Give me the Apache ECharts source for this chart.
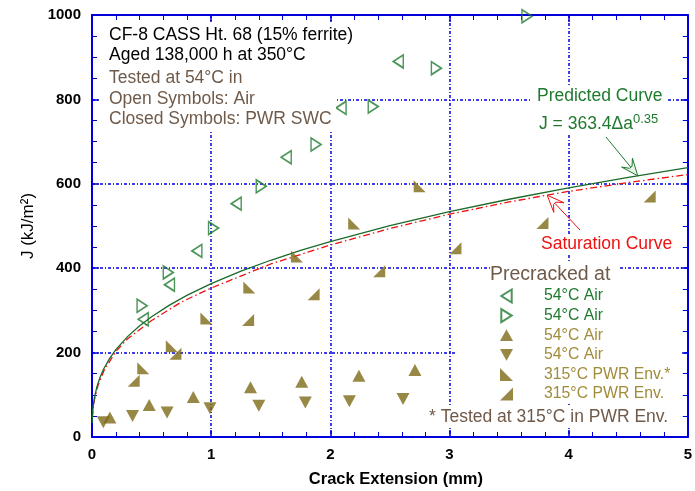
<!DOCTYPE html>
<html>
<head>
<meta charset="utf-8">
<script src="https://cdn.jsdelivr.net/npm/echarts@6/dist/echarts.min.js"></script>
<style>
  html, body { margin: 0; padding: 0; background: #ffffff; }
  #chart { width: 695px; height: 491px; }
</style>
</head>
<body>
<div id="chart"></div>
<script>
// Crack extension Δa (mm) and J (kJ/m²) for each specimen group
const airOpenLeft  = [[0.43, 279], [0.65, 361], [0.88, 441], [1.21, 553], [1.63, 663], [2.09, 780], [2.57, 890]];
const airOpenRight = [[0.42, 311], [0.64, 390], [1.02, 495], [1.42, 594], [1.88, 693], [2.36, 783], [2.89, 874], [3.65, 997]];
const swcUp        = [[0.15, 46], [0.48, 76], [0.85, 95], [1.33, 118], [1.76, 131], [2.24, 145], [2.71, 159]];
const swcDown      = [[0.095, 35], [0.34, 50], [0.63, 58], [0.99, 68], [1.40, 74], [1.79, 82], [2.16, 85], [2.61, 90]];
const pwrHotTested = [[0.43, 163], [0.67, 215], [0.96, 281], [1.32, 354], [1.72, 428], [2.20, 506], [2.75, 594]];
const pwrEnv       = [[0.35, 133], [0.70, 197], [1.31, 277], [1.86, 338], [2.41, 393], [3.05, 447], [3.78, 507], [4.68, 570]];

// Saturation J-R curve
const saturationCurve = [[0.003, 45], [0.01, 68], [0.02, 88], [0.05, 122], [0.1, 157], [0.2, 203], [0.3, 233],
  [0.5, 276], [0.75, 320], [1.0, 353], [1.5, 410], [2.0, 455], [2.5, 494], [3.0, 528], [3.5, 557],
  [4.0, 582], [4.5, 603], [5.0, 622]];

// Predicted curve J = C·Δa^n
const fitC = 363.4;
const fitN = 0.35;
const fitDa = [0.001, 0.003, 0.006, 0.01, 0.02, 0.04, 0.07, 0.1, 0.15, 0.2, 0.3, 0.4, 0.5, 0.65, 0.8, 1.0,
  1.25, 1.5, 1.75, 2.0, 2.5, 3.0, 3.5, 4.0, 4.5, 5.0];
const predictedCurve = fitDa.map(a => [a, fitC * Math.pow(a, fitN)]);

// Axis ranges
const xRange = { min: 0, max: 5, interval: 1 };
const yRange = { min: 0, max: 1000, interval: 200 };

const legendLabels = {
  airOpenLeft: '54°C Air',
  airOpenRight: '54°C Air',
  swcUp: '54°C Air',
  swcDown: '54°C Air',
  pwrHotTested: '315°C PWR Env.*',
  pwrEnv: '315°C PWR Env.'
};

const BLUE = '#0000dd';
const GREEN = '#1f7a2e';
const OLIVE = '#7d6a17';
const OLIVE_TEXT = '#a08c3a';
const BROWN = '#6f5a4a';
const RED = '#ee1111';
const FONT = 'Liberation Sans, Arial, sans-serif';

// Triangle shapes
const TRI_LEFT  = 'path://M8,0 L8,10 L0,5 Z';
const TRI_RIGHT = 'path://M0,0 L0,10 L8,5 Z';
const TRI_UP    = 'path://M5,0 L10,9 L0,9 Z';
const TRI_DOWN  = 'path://M0,0 L10,0 L5,9 Z';
const RT_LEFT   = 'path://M0,0 L0,10 L10,10 Z';   // right angle at lower left
const RT_RIGHT  = 'path://M10,0 L10,10 L0,10 Z';  // right angle at lower right

const gridLine = { show: true, lineStyle: { color: BLUE, width: 1.5, type: [3, 2, 1, 2] } };
const tickLabel = { color: '#000', fontFamily: FONT, fontWeight: 'bold', fontSize: 15, formatter: v => String(v) };

function frameAxis(extra) {
  return Object.assign({
    type: 'value',
    axisLine: { show: true, onZero: false, lineStyle: { color: BLUE, width: 2 } },
    axisTick: { show: true, inside: true, length: 7, lineStyle: { color: BLUE, width: 1.5 } }
  }, extra);
}

const chart = echarts.init(document.getElementById('chart'), null, { renderer: 'canvas' });

function scatter(name, data, symbol, size, open, color) {
  return {
    name, type: 'scatter', data, symbol, symbolSize: size, symbolKeepAspect: false,
    xAxisIndex: 0, yAxisIndex: 0, z: 4,
    itemStyle: open
      ? { color: 'rgba(255,255,255,0)', borderColor: color, borderWidth: 1.6 }
      : { color: color, borderWidth: 0 }
  };
}

const option = {
  animation: false,
  backgroundColor: '#ffffff',
  grid: { left: 92, right: 5, top: 15, bottom: 54, containLabel: false },
  xAxis: [
    frameAxis({
      position: 'bottom', min: xRange.min, max: xRange.max, interval: xRange.interval,
      minorTick: { show: true, splitNumber: 5, length: 5, lineStyle: { color: BLUE, width: 1 } },
      splitLine: gridLine,
      axisLabel: Object.assign({ margin: 10 }, tickLabel)
    }),
    frameAxis({
      position: 'top', min: xRange.min, max: xRange.max, interval: xRange.interval,
      minorTick: { show: true, splitNumber: 5, length: 5, lineStyle: { color: BLUE, width: 1 } },
      splitLine: { show: false }, axisLabel: { show: false }
    })
  ],
  yAxis: [
    frameAxis({
      position: 'left', min: yRange.min, max: yRange.max, interval: yRange.interval,
      minorTick: { show: true, splitNumber: 4, length: 5, lineStyle: { color: BLUE, width: 1 } },
      splitLine: gridLine,
      axisLabel: Object.assign({ margin: 11 }, tickLabel),
      name: 'J (kJ/m²)', nameLocation: 'middle', nameGap: 49, nameRotate: 90,
      nameTextStyle: { color: '#000', fontFamily: FONT, fontSize: 17 }
    }),
    frameAxis({
      position: 'right', min: yRange.min, max: yRange.max, interval: yRange.interval,
      minorTick: { show: true, splitNumber: 4, length: 5, lineStyle: { color: BLUE, width: 1 } },
      splitLine: { show: false }, axisLabel: { show: false }
    })
  ],
  legend: {
    orient: 'vertical', left: 500, top: 288, padding: 0, z: 20,
    itemWidth: 13, itemHeight: 13, itemGap: 3.6,
    formatter: name => '{p|}' + legendLabels[name],
    textStyle: { fontFamily: FONT, fontSize: 15.8, rich: { p: { width: 26 } } },
    data: [
      { name: 'airOpenLeft', icon: TRI_LEFT, textStyle: { color: GREEN } },
      { name: 'airOpenRight', icon: TRI_RIGHT, textStyle: { color: GREEN } },
      { name: 'swcUp', icon: TRI_UP, textStyle: { color: OLIVE_TEXT } },
      { name: 'swcDown', icon: TRI_DOWN, textStyle: { color: OLIVE_TEXT } },
      { name: 'pwrHotTested', icon: RT_LEFT, textStyle: { color: OLIVE_TEXT } },
      { name: 'pwrEnv', icon: RT_RIGHT, textStyle: { color: OLIVE_TEXT } }
    ]
  },
  series: [
    {
      name: 'predicted', type: 'line', data: predictedCurve, showSymbol: false, symbol: 'none',
      lineStyle: { color: '#1a6b2a', width: 1.3 }, z: 3, silent: true
    },
    {
      name: 'saturation', type: 'line', data: saturationCurve, showSymbol: false, symbol: 'none',
      lineStyle: { color: RED, width: 1.3, type: [7, 3, 1.5, 3] }, z: 2, silent: true
    },
    scatter('airOpenLeft', airOpenLeft, TRI_LEFT, [10, 13], true, GREEN),
    scatter('airOpenRight', airOpenRight, TRI_RIGHT, [10, 13], true, GREEN),
    scatter('swcUp', swcUp, TRI_UP, [13, 12], false, OLIVE),
    scatter('swcDown', swcDown, TRI_DOWN, [13, 12], false, OLIVE),
    scatter('pwrHotTested', pwrHotTested, RT_LEFT, [12, 12], false, OLIVE),
    scatter('pwrEnv', pwrEnv, RT_RIGHT, [12, 12], false, OLIVE)
  ]
};

chart.setOption(option);

// Annotation arrows point at the curves
function arrow(tail, tip, color, headFill) {
  const dx = tip[0] - tail[0], dy = tip[1] - tail[1];
  const len = Math.sqrt(dx * dx + dy * dy);
  const ux = dx / len, uy = dy / len, px = -uy, py = ux;
  const headLen = 17, headHalf = 7, notch = 11, shaftHalf = 1.6;
  const base = [tip[0] - ux * headLen, tip[1] - uy * headLen];
  const neck = [tip[0] - ux * notch, tip[1] - uy * notch];
  return [
    { type: 'line', shape: { x1: tail[0], y1: tail[1], x2: neck[0], y2: neck[1] },
      style: { stroke: color, lineWidth: 1 }, z: 10 },
    { type: 'polygon', shape: { points: [
        tip,
        [base[0] + px * headHalf, base[1] + py * headHalf],
        [neck[0] + px * shaftHalf, neck[1] + py * shaftHalf],
        [neck[0] - px * shaftHalf, neck[1] - py * shaftHalf],
        [base[0] - px * headHalf, base[1] - py * headHalf]
      ] },
      style: { fill: headFill, stroke: color, lineWidth: 1 }, z: 10 }
  ];
}

const toPx = v => chart.convertToPixel({ xAxisIndex: 0, yAxisIndex: 0 }, v);
const greenTip = toPx([4.58, fitC * Math.pow(4.58, fitN)]);
const redTip = toPx([3.82, 573]);
const xMid = toPx([2.5, 0]);

function label(text, x, y, color, font) {
  return {
    type: 'text', x, y, z: 12,
    style: { text, fill: color, font: font + ' ' + FONT, verticalAlign: 'middle', align: 'left' }
  };
}

// Opaque backing behind the text blocks
function backing(x, y, w, h) {
  return { type: 'rect', shape: { x, y, width: w, height: h }, style: { fill: '#ffffff' }, z: 6, silent: true };
}

chart.setOption({
  graphic: [
    backing(100, 23, 236, 107),
    backing(531, 86, 136, 48),
    backing(537, 234, 138, 20),
    backing(490, 263, 128, 22),
    backing(455, 285, 227, 117),
    backing(426, 407, 250, 20),
    label('CF-8 CASS Ht. 68 (15% ferrite)', 109, 35, '#000', '17.5px'),
    label('Aged 138,000 h at 350°C', 109, 55, '#000', '17.5px'),
    label('Tested at 54°C in', 109, 78, BROWN, '17.5px'),
    label('Open Symbols: Air', 109, 99, BROWN, '17.5px'),
    label('Closed Symbols: PWR SWC', 109, 119, BROWN, '17.5px'),
    label('Precracked at', 490, 275, BROWN, '19.5px'),
    label('* Tested at 315°C in PWR Env.', 429, 417, BROWN, '17.5px'),
    label('Predicted Curve', 537, 96, GREEN, '17.5px'),
    {
      type: 'text', x: 539, y: 123, z: 12,
      style: {
        text: '{m|J = 363.4Δa}{s|0.35}', verticalAlign: 'middle', align: 'left',
        rich: {
          m: { fill: GREEN, font: '17.5px ' + FONT, verticalAlign: 'bottom' },
          s: { fill: GREEN, font: '13px ' + FONT, verticalAlign: 'top', padding: [0, 0, 8, 0] }
        }
      }
    },
    label('Saturation Curve', 541, 244, RED, '17.5px'),
    {
      type: 'text', x: xMid[0] + 6, y: 479, z: 12,
      style: { text: 'Crack Extension (mm)', fill: '#000', font: 'bold 16.5px ' + FONT,
        verticalAlign: 'middle', align: 'center' }
    },
    ...arrow([606, 137], greenTip, GREEN, '#e6f3e6'),
    ...arrow([580, 230], redTip, RED, '#ffffff')
  ]
});
</script>
</body>
</html>
